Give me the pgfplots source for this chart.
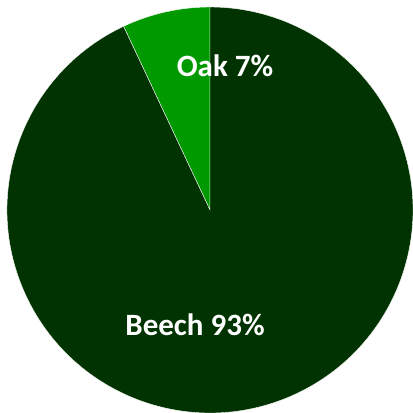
\documentclass[border=0pt]{standalone}
\usepackage{fontspec}
\setmainfont{Carlito}
\usepackage{pgfplots}
\usepackage{pgfplotstable}
\pgfplotsset{compat=1.18}
\definecolor{oakgreen}{HTML}{009900}
\definecolor{beechgreen}{HTML}{003300}

\pgfplotstableread{
label value
Oak 7
Beech 93
}\piedata

\begin{document}
\begin{tikzpicture}
  \pgfplotstablegetelem{0}{value}\of\piedata \let\oakval\pgfplotsretval
  \pgfplotstablegetelem{1}{value}\of\piedata \let\beechval\pgfplotsretval
  \pgfmathsetmacro{\oakend}{90+3.6*\oakval}
  \begin{axis}[
      scale only axis, width=413pt, height=413pt,
      xmin=-210, xmax=203, ymin=-203, ymax=210,
      hide axis, clip=false,
    ]
    \coordinate (bl) at (axis cs:-210,-203);
    \coordinate (tr) at (axis cs:203,210);
    \fill[white] (bl) rectangle (tr);
    \fill[oakgreen, draw=white, line width=0.4pt] (axis cs:0,0) -- ++(90:203pt)
      arc[start angle=90, end angle=\oakend, radius=203pt] -- cycle;
    \fill[beechgreen, draw=white, line width=0.4pt] (axis cs:0,0) -- ++(\oakend:203pt)
      arc[start angle=\oakend, end angle=450, radius=203pt] -- cycle;
    \node[text=white, font=\fontsize{31}{36}\selectfont\bfseries] at (axis cs:15,144) {Oak \oakval\%};
    \node[text=white, font=\fontsize{31}{36}\selectfont\bfseries] at (axis cs:-15,-115) {Beech \beechval\%};
  \end{axis}
  \pgfresetboundingbox
  \path[use as bounding box] (bl) rectangle (tr);
\end{tikzpicture}
\end{document}
